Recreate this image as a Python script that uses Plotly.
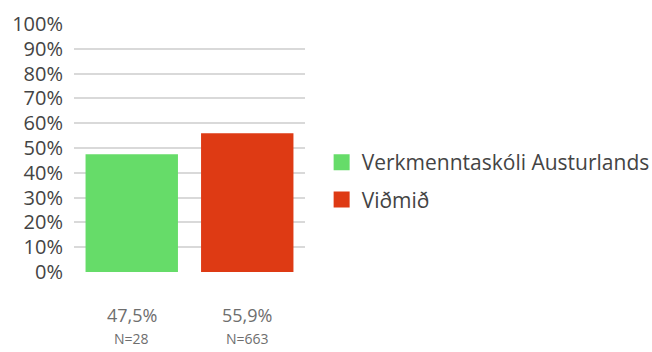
import plotly.graph_objects as go

# Data
categories = ["Verkmenntaskóli Austurlands", "Viðmið"]
values = [47.5, 55.9]
counts = [28, 663]
colors = ["#66DC69", "#DE3A14"]
tick_vals = list(range(0, 101, 10))
tick_text = [f"{v}%" for v in tick_vals]

FONT = "'Open Sans', sans-serif"

fig = go.Figure()

# Bars (legend entries are drawn separately with square markers)
fig.add_trace(go.Bar(
    x=categories, y=values,
    marker=dict(color=colors, line=dict(width=0)),
    showlegend=False, hoverinfo="skip",
))

for i, (name, col) in enumerate(zip(categories, colors)):
    fig.add_trace(go.Scatter(
        x=[None], y=[None], mode="markers", name=name,
        legendgroup=f"g{i}",
        marker=dict(symbol="square", size=17, color=col),
    ))

# Value and count labels below each bar
for cat, v, n in zip(categories, values, counts):
    fig.add_annotation(
        x=cat, y=-0.172, xref="x", yref="paper",
        text=f"{v:.1f}%".replace(".", ","), showarrow=False,
        font=dict(family=FONT, size=18, color="#6E6E6E"),
        yanchor="middle",
    )
    fig.add_annotation(
        x=cat, y=-0.27, xref="x", yref="paper",
        text=f"N={n}", showarrow=False,
        font=dict(family=FONT, size=14, color="#6E6E6E"),
        yanchor="middle",
    )

fig.update_layout(
    width=652, height=352,
    margin=dict(l=74, r=347, t=24, b=80, autoexpand=False),
    paper_bgcolor="white", plot_bgcolor="white",
    bargap=0.2,
    font=dict(family=FONT, color="#444444"),
    showlegend=True,
    legend=dict(
        x=1.072, y=0.367, xanchor="left", yanchor="middle",
        font=dict(family=FONT, size=21, color="#444444"),
        traceorder="grouped", tracegroupgap=7,
        itemsizing="trace",
        bgcolor="rgba(0,0,0,0)",
    ),
    xaxis=dict(showticklabels=False, showgrid=False, zeroline=False,
               showline=False, ticks=""),
    yaxis=dict(range=[0, 100], tickvals=tick_vals, ticktext=tick_text,
               showgrid=True, gridcolor="#D9D9D9", gridwidth=2,
               zeroline=False, showline=False, ticks="",
               ticklabelstandoff=10,
               tickfont=dict(family=FONT, size=20, color="#444444")),
)

fig.write_html("out.html")
